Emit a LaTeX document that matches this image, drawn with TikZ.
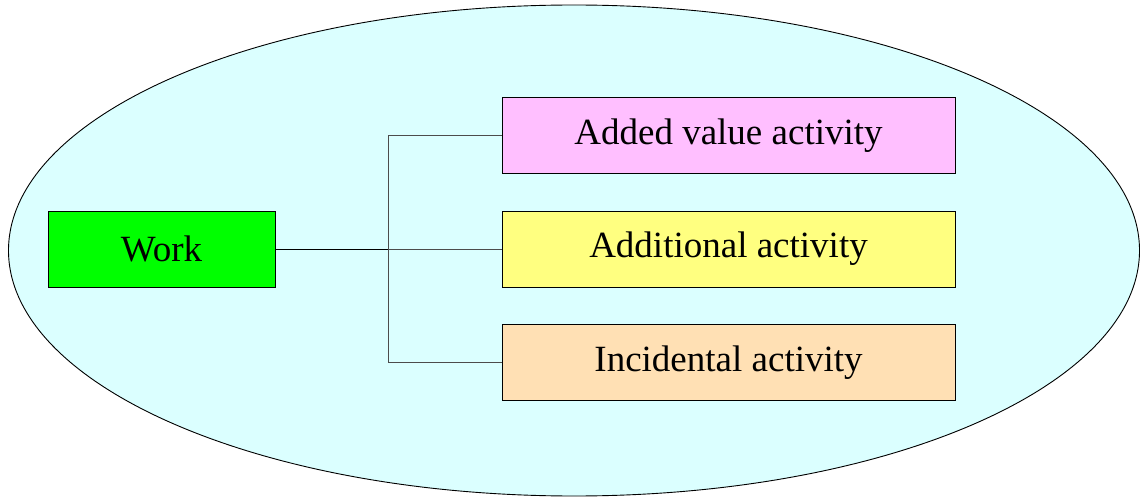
\documentclass[tikz,border=0pt]{standalone}
\usepackage{fontspec}
\setmainfont{Liberation Serif}
\definecolor{ellfill}{HTML}{DBFFFF}
\definecolor{pinkbox}{HTML}{FFBFFF}
\definecolor{yellowbox}{HTML}{FFFF80}
\definecolor{peachbox}{HTML}{FFE0B4}
\definecolor{greenbox}{HTML}{00FF00}
\begin{document}
\begin{tikzpicture}[x=1pt,y=1pt,
  box/.style={draw=black, line width=0.8pt, minimum height=76pt, inner sep=0pt,
    font=\fontsize{37}{44}\selectfont},
  conn/.style={draw=black!70, line width=1pt}]
\useasboundingbox (0,0) rectangle (1140,-497);
\draw[fill=ellfill, line width=0.9pt] (574,-250.5) ellipse [x radius=565.5, y radius=245.5];
\node[box, fill=greenbox, minimum width=227pt] (work) at (161.5,-249) {Work};
\node[box, fill=pinkbox, minimum width=453pt] (added) at (728.5,-135.7) {Added value activity};
\node[box, fill=yellowbox, minimum width=453pt] (addl) at (728.5,-249) {Additional activity};
\node[box, fill=peachbox, minimum width=453pt] (inc) at (728.5,-362.3) {Incidental activity};
\coordinate (j) at (388.7,-249);
\draw[conn, draw=black] (work.east) -- (j);
\draw[conn] (j) |- (added.west);
\draw[conn] (j) -- (addl.west);
\draw[conn] (j) |- (inc.west);
\end{tikzpicture}
\end{document}
